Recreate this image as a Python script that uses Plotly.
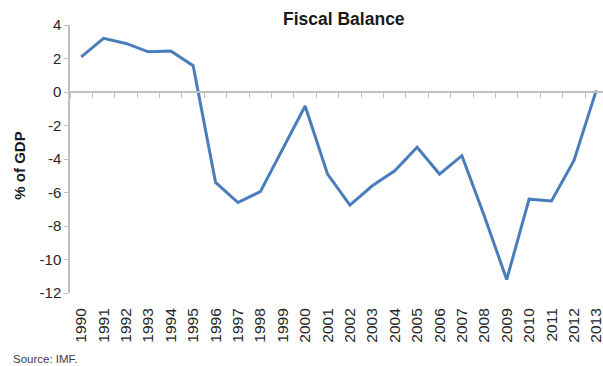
import plotly.graph_objects as go

years = [str(y) for y in range(1990, 2014)]
balance = [2.1, 3.2, 2.9, 2.4, 2.45, 1.57, -5.4, -6.6, -5.95, -3.4, -0.84, -4.9,
           -6.75, -5.6, -4.7, -3.3, -4.9, -3.8, -7.4, -11.2, -6.4, -6.5, -4.1, 0.1]
y_ticks = [4, 2, 0, -2, -4, -6, -8, -10, -12]
y_ticktext = [str(v) for v in y_ticks]  # plain hyphen minus, as in the reference

FONT = "Liberation Sans, Arial, sans-serif"
AXIS_GRAY = "#bfbfbf"

fig = go.Figure()
fig.add_trace(go.Scatter(x=years, y=balance, mode="lines",
                         line=dict(color="#4a7ebb", width=3), xaxis="x", yaxis="y"))
# helper trace (invisible) for the bottom label axis
fig.add_trace(go.Scatter(x=years, y=balance, mode="lines", line=dict(width=0),
                         hoverinfo="skip", xaxis="x2", yaxis="y"))

yr = [-12, 4]
zero_pos = (0 - yr[0]) / (yr[1] - yr[0])
xr = [-0.5, 23.3]

fig.update_layout(
    width=603, height=366,
    margin=dict(l=70, r=0, t=25, b=73),
    paper_bgcolor="white", plot_bgcolor="white",
    showlegend=False,
    font=dict(family=FONT, color="#262626"),
    xaxis=dict(type="category", categoryarray=years, range=xr,
               anchor="free", position=zero_pos,
               showline=True, linecolor=AXIS_GRAY, linewidth=1.5,
               ticks="outside", tickson="boundaries", ticklen=5, tickcolor=AXIS_GRAY,
               showticklabels=False, showgrid=False, zeroline=False),
    xaxis2=dict(type="category", categoryarray=years, range=xr,
                overlaying="x", anchor="y", side="bottom",
                showline=False, ticks="outside", ticklen=8, tickcolor="rgba(0,0,0,0)",
                showgrid=False, zeroline=False,
                tickangle=-90, tickfont=dict(size=15.5, color="#262626", family=FONT)),
    yaxis=dict(range=yr, tickvals=y_ticks, ticktext=y_ticktext,
               showgrid=False, zeroline=False,
               showline=True, linecolor=AXIS_GRAY, linewidth=1.5,
               ticks="outside", ticklen=4, tickcolor=AXIS_GRAY,
               tickfont=dict(size=15, color="#262626", family=FONT)),
    annotations=[
        dict(text="<b>Fiscal Balance</b>", xref="paper", yref="paper",
             x=0, xshift=274, y=1, yshift=6, xanchor="center", yanchor="middle",
             showarrow=False, font=dict(size=17.5, color="#1a1a1a", family=FONT)),
        dict(text="<b>% of GDP</b>", xref="paper", yref="paper",
             x=0, xshift=-50, y=0.475, textangle=-90, xanchor="center", yanchor="middle",
             showarrow=False, font=dict(size=15, color="#1a1a1a", family=FONT)),
        dict(text="Source: IMF.", xref="paper", yref="paper",
             x=0, xshift=-59, y=0, yshift=-66, xanchor="left", yanchor="middle",
             showarrow=False, font=dict(size=11.5, color="#404040", family=FONT)),
    ],
)

fig.write_html("out.html")
